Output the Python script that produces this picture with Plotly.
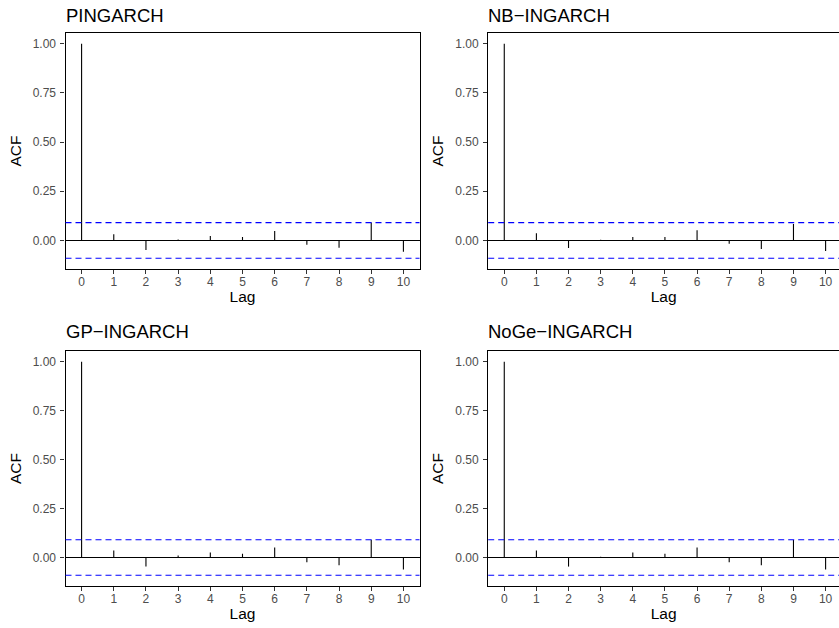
import plotly.graph_objects as go

lags = list(range(11))
acf_pingarch = [1.0, 0.032, -0.048, 0.005, 0.022, 0.017, 0.048, -0.022, -0.037, 0.091, -0.058]
acf_nb = [1.0, 0.037, -0.038, 0.003, 0.017, 0.017, 0.052, -0.017, -0.043, 0.083, -0.053]
acf_gp = [1.0, 0.036, -0.046, 0.010, 0.026, 0.020, 0.051, -0.024, -0.039, 0.091, -0.061]
acf_noge = [1.0, 0.036, -0.046, 0.004, 0.026, 0.020, 0.051, -0.024, -0.039, 0.090, -0.061]
titles = ["PINGARCH", "NB\u2212INGARCH", "GP\u2212INGARCH", "NoGe\u2212INGARCH"]
ci = 0.0906
y_ticks = [0.0, 0.25, 0.5, 0.75, 1.0]

series = [acf_pingarch, acf_nb, acf_gp, acf_noge]

W, H = 839, 628
# panel pixel boxes (left, top, right, bottom)
boxes = [(65.5, 33, 419.5, 269), (488.2, 33, 839, 269),
         (65.5, 351, 419.5, 586), (488.2, 351, 839, 586)]
title_y = [15, 15, 331, 331]
xranges = [[-0.5, 10.5], [-0.5, 10.417], [-0.5, 10.5], [-0.5, 10.417]]

fig = go.Figure()
font = "Liberation Sans, Arial, sans-serif"
layout = dict(width=W, height=H, margin=dict(l=0, r=0, t=0, b=0),
              paper_bgcolor="white", plot_bgcolor="white", showlegend=False,
              font=dict(family=font))
shapes = []
annotations = []
for i, (vals, title) in enumerate(zip(series, titles)):
    idx = i + 1
    xa = "x" if idx == 1 else f"x{idx}"
    ya = "y" if idx == 1 else f"y{idx}"
    xs, ys = [], []
    for lag, v in zip(lags, vals):
        xs += [lag, lag, None]
        ys += [0, v, None]
    fig.add_trace(go.Scatter(x=xs, y=ys, mode="lines", xaxis=xa, yaxis=ya,
                             line=dict(color="black", width=1.1), hoverinfo="skip"))
    lo = min(-ci, min(vals))
    hi = max(ci, max(vals))
    pad = 0.05 * (hi - lo)
    l, t, r, b = boxes[i]
    right_col = i % 2 == 1
    xkey = "xaxis" if idx == 1 else f"xaxis{idx}"
    ykey = "yaxis" if idx == 1 else f"yaxis{idx}"
    layout[xkey] = dict(domain=[l / W, min(r / W, 1.0)], anchor=ya, range=xranges[i],
                        tickvals=lags, ticks="outside", ticklen=4, tickcolor="#333333",
                        tickwidth=1, showgrid=False, zeroline=False,
                        showline=True, linecolor="black", linewidth=1.2, mirror=True,
                        ticklabelstandoff=-3,
                        tickfont=dict(size=12, color="#4D4D4D", family=font),
                        title=dict(text="Lag", font=dict(size=15.5, color="black", family=font),
                                   standoff=2))
    layout[ykey] = dict(domain=[1 - b / H, 1 - t / H], anchor=xa, range=[lo - pad, hi + pad],
                        tickvals=y_ticks, tickformat=".2f", ticks="outside", ticklen=4,
                        tickcolor="#333333", tickwidth=1, showgrid=False,
                        zeroline=True, zerolinecolor="black", zerolinewidth=1.1,
                        showline=True, linecolor="black", linewidth=1.2,
                        mirror=(not right_col), ticklabelstandoff=2,
                        tickfont=dict(size=12, color="#4D4D4D", family=font),
                        title=dict(text="ACF", font=dict(size=15.5, color="black", family=font),
                                   standoff=7))
    for c in (ci, -ci):
        shapes.append(dict(type="line", xref=f"{xa} domain", yref=ya, x0=0, x1=1, y0=c, y1=c,
                           line=dict(color="#0000FF", width=1.1, dash="6px,4px")))
    annotations.append(dict(text=title, xref="paper", yref="paper", x=(l - 2) / W, xanchor="left",
                            y=1 - title_y[i] / H, yanchor="middle",
                            showarrow=False, font=dict(size=18.5, color="black", family=font)))

layout["shapes"] = shapes
layout["annotations"] = annotations
fig.update_layout(**layout)
fig.write_html("out.html", config={"displayModeBar": False},
               post_script="document.body.style.margin='0';document.body.style.overflow='hidden';")
